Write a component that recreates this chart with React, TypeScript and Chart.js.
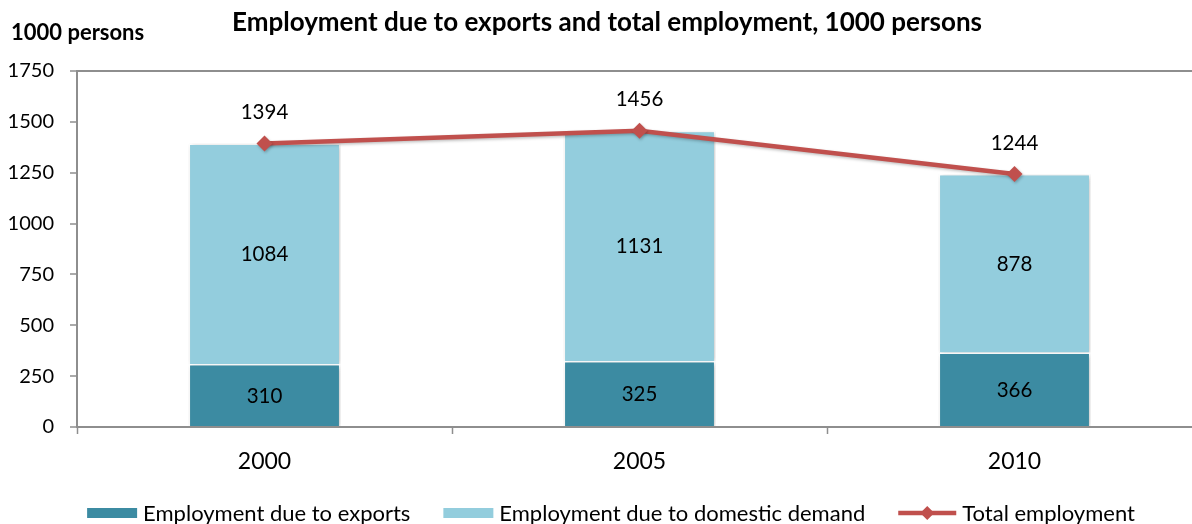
import React, { useEffect, useRef } from "react";
import { Chart, registerables } from "chart.js";

Chart.register(...registerables);

const categories = ["2000", "2005", "2010"];
const exportsEmployment = [310, 325, 366];
const domesticEmployment = [1084, 1131, 878];
const totalEmployment = [1394, 1456, 1244];
const yTickValues = [0, 250, 500, 750, 1000, 1250, 1500, 1750];

const seriesLabels = [
  "Employment due to exports",
  "Employment due to domestic demand",
  "Total employment",
];
const titleText = "Employment due to exports and total employment, 1000 persons";
const unitText = "1000 persons";

const FONT = "Lato, 'Open Sans', sans-serif";
const DARK = "#3C8BA2";
const LIGHT = "#93CDDD";
const RED = "#C0504D";
const AXIS = "#8E8E8E";
const W = 1215;
const H = 524;

function drawDiamond(ctx: CanvasRenderingContext2D, x: number, y: number, r: number) {
  ctx.beginPath();
  ctx.moveTo(x, y - r);
  ctx.lineTo(x + r, y);
  ctx.lineTo(x, y + r);
  ctx.lineTo(x - r, y);
  ctx.closePath();
  ctx.fill();
}

const shadowPlugin = {
  id: "barShadow",
  beforeDatasetDraw(chart: any, args: any) {
    const ctx = chart.ctx;
    ctx.save();
    if (args.meta.type === "bar") {
      ctx.shadowColor = "rgba(0,0,0,0.30)";
      ctx.shadowBlur = 5;
      ctx.shadowOffsetX = 1.5;
      ctx.shadowOffsetY = 1.5;
    } else {
      ctx.shadowColor = "rgba(0,0,0,0.25)";
      ctx.shadowBlur = 3;
      ctx.shadowOffsetX = 1;
      ctx.shadowOffsetY = 1.5;
    }
  },
  afterDatasetDraw(chart: any) {
    chart.ctx.restore();
  },
};

const textPlugin = {
  id: "texts",
  afterDatasetsDraw(chart: any) {
    const ctx: CanvasRenderingContext2D = chart.ctx;
    ctx.save();
    ctx.fillStyle = "#000";
    ctx.textAlign = "center";
    ctx.textBaseline = "middle";
    ctx.font = `20.5px ${FONT}`;
    chart.data.datasets.forEach((ds: any, i: number) => {
      const meta = chart.getDatasetMeta(i);
      meta.data.forEach((el: any, j: number) => {
        const v = ds.data[j];
        if (meta.type === "bar") {
          const p = el.getProps(["x", "y", "base"], true);
          ctx.fillText(String(v), p.x, (p.y + p.base) / 2 + 1);
        } else {
          ctx.fillText(String(v), el.x, el.y - 31);
        }
      });
    });
    ctx.restore();
  },
  afterDraw(chart: any) {
    const ctx: CanvasRenderingContext2D = chart.ctx;
    ctx.save();
    ctx.fillStyle = "#000";
    ctx.textBaseline = "middle";
    // title
    ctx.textAlign = "center";
    ctx.font = `bold 26px ${FONT}`;
    ctx.fillText(titleText, 607, 23);
    // unit label
    ctx.textAlign = "left";
    ctx.font = `bold 22px ${FONT}`;
    ctx.fillText(unitText, 11, 33);

    // legend
    ctx.font = `22px ${FONT}`;
    const ds = chart.data.datasets;
    const order = [0, 1, 2];
    const markerW = [50, 50, 58];
    const gapText = 6;
    const gapItem = 33;
    const widths = order.map((i) => ctx.measureText(ds[i].label).width);
    let total = 0;
    order.forEach((_, k) => {
      total += markerW[k] + gapText + widths[k];
      if (k < order.length - 1) total += gapItem;
    });
    let x = 611 - total / 2;
    const cy = 513;
    order.forEach((i, k) => {
      const d = ds[i];
      if (d.type === "line") {
        ctx.strokeStyle = d.borderColor;
        ctx.lineWidth = 4.5;
        ctx.beginPath();
        ctx.moveTo(x, cy);
        ctx.lineTo(x + markerW[k], cy);
        ctx.stroke();
        ctx.fillStyle = d.pointBackgroundColor;
        drawDiamond(ctx, x + markerW[k] / 2, cy, 7);
      } else {
        ctx.fillStyle = d.backgroundColor;
        ctx.fillRect(x, cy - 5, markerW[k], 10);
      }
      x += markerW[k] + gapText;
      ctx.fillStyle = "#000";
      ctx.fillText(d.label, x, cy + 1);
      x += widths[k] + gapItem;
    });
    ctx.restore();
  },
};

export default function App() {
  const ref = useRef<HTMLCanvasElement | null>(null);

  useEffect(() => {
    if (!ref.current) return;
    const chart = new Chart(ref.current, {
      type: "bar",
      data: {
        labels: categories,
        datasets: [
          {
            type: "bar",
            label: seriesLabels[0],
            data: exportsEmployment,
            backgroundColor: DARK,
            borderColor: "#FFFFFF",
            borderWidth: 1.5,
            stack: "bars",
            order: 1,
            barPercentage: 0.405,
            categoryPercentage: 1,
          },
          {
            type: "bar",
            label: seriesLabels[1],
            data: domesticEmployment,
            backgroundColor: LIGHT,
            borderColor: "#FFFFFF",
            borderWidth: 1.5,
            stack: "bars",
            order: 1,
            barPercentage: 0.405,
            categoryPercentage: 1,
          },
          {
            type: "line",
            label: seriesLabels[2],
            data: totalEmployment,
            borderColor: RED,
            backgroundColor: RED,
            borderWidth: 4.5,
            pointStyle: "rectRot",
            pointRadius: 8,
            pointBackgroundColor: RED,
            pointBorderColor: RED,
            pointBorderWidth: 0,
            stack: "line",
            order: 0,
            tension: 0,
          },
        ],
      } as any,
      options: {
        responsive: false,
        animation: false,
        devicePixelRatio: 1,
        layout: { padding: { top: 71, right: 13, left: 0, bottom: 0 } },
        plugins: {
          legend: { display: false },
          title: { display: false },
          tooltip: { enabled: false },
        },
        scales: {
          x: {
            stacked: true,
            offset: true,
            afterFit: (scale: any) => {
              scale.height = 97;
            },
            grid: {
              offset: true,
              color: "rgba(0,0,0,0)",
              tickColor: AXIS,
              tickLength: 7,
              tickWidth: 1.5,
            },
            border: { display: true, color: AXIS, width: 2 },
            ticks: {
              color: "#000",
              font: { family: FONT, size: 23 },
              padding: 14,
            },
          },
          y: {
            stacked: true,
            min: 0,
            max: 1750,
            afterFit: (scale: any) => {
              scale.width = 77;
            },
            afterBuildTicks: (scale: any) => {
              scale.ticks = yTickValues.map((v) => ({ value: v }));
            },
            grid: {
              color: (c: any) => (c.tick && c.tick.value === 1750 ? AXIS : "rgba(0,0,0,0)"),
              lineWidth: 2,
              tickColor: AXIS,
              tickLength: 7,
              tickWidth: 1.5,
            },
            border: { display: true, color: AXIS, width: 2 },
            ticks: {
              color: "#000",
              font: { family: FONT, size: 20 },
              padding: 16,
              callback: (v: any) => String(v),
            },
          },
        },
      } as any,
      plugins: [shadowPlugin, textPlugin],
    });
    return () => chart.destroy();
  }, []);

  return (
    <div
      style={{
        position: "fixed",
        left: 0,
        top: 0,
        width: 1192,
        height: 524,
        overflow: "hidden",
        background: "#FFFFFF",
      }}
    >
      <canvas ref={ref} width={W} height={H} style={{ display: "block", width: W, height: H }} />
    </div>
  );
}
